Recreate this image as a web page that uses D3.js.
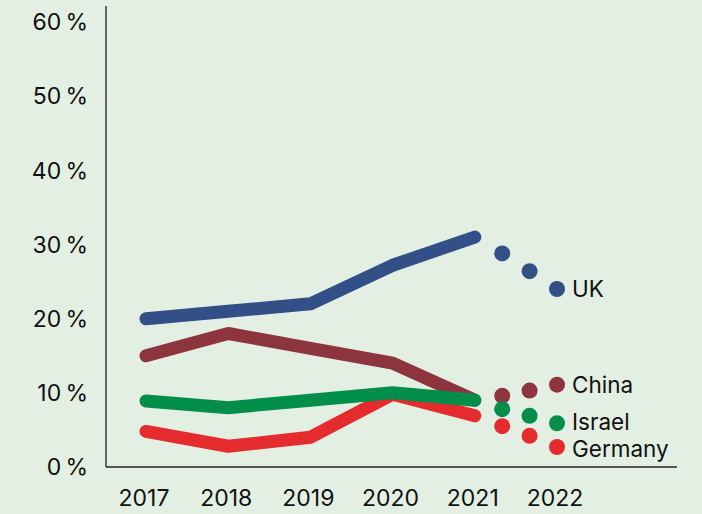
<!DOCTYPE html>
<html>
<head>
<meta charset="utf-8">
<script src="https://cdn.jsdelivr.net/npm/d3@7"></script>
<style>
  html, body { margin: 0; padding: 0; background: #e3efe3; }
  svg { display: block; }
</style>
</head>
<body>
<svg id="chart" width="702" height="514"></svg>
<script>
'use strict';

// data
var years = [2017, 2018, 2019, 2020, 2021];
var dotYears = [2021 + 1 / 3, 2021 + 2 / 3, 2022];
var tickYears = [2017, 2018, 2019, 2020, 2021, 2022];
var yTicks = [0, 10, 20, 30, 40, 50, 60];

var seriesNames = ['Germany', 'China', 'Israel', 'UK'];
var seriesColors = ['#e42b2e', '#8c353f', '#008e4a', '#334f87'];
var germany = [4.8, 2.8, 4, 9.8, 6.9];
var china = [15, 18, 16, 14, 9];
var israel = [8.9, 8, 9, 10, 9];
var uk = [20, 21, 22, 27.2, 31];
var germanyDots = [5.5, 4.2, 2.7];
var chinaDots = [9.6, 10.3, 11.1];
var israelDots = [7.8, 6.9, 5.9];
var ukDots = [28.8, 26.4, 24];

var lineValues = [germany, china, israel, uk];
var dotValues = [germanyDots, chinaDots, israelDots, ukDots];

var svg = d3.select('#chart');
var font = 'Inter, "Liberation Sans", sans-serif';

var x = d3.scaleLinear().domain([2017, 2022]).range([146, 557]);
var y = d3.scaleLinear().domain([0, 60]).range([467, 22]);

// axes lines
svg.append('line')
    .attr('x1', 106).attr('x2', 106)
    .attr('y1', 6).attr('y2', 467)
    .attr('stroke', '#222').attr('stroke-width', 1.3);
svg.append('line')
    .attr('x1', 106).attr('x2', 677)
    .attr('y1', 467).attr('y2', 467)
    .attr('stroke', '#222').attr('stroke-width', 1.3);

// y tick labels
svg.selectAll('text.ytick')
    .data(yTicks)
    .enter().append('text')
    .attr('class', 'ytick')
    .attr('x', 88)
    .attr('y', function(d) { return y(d); })
    .attr('dy', '0.36em')
    .attr('text-anchor', 'end')
    .attr('font-family', font)
    .attr('font-size', 23)
    .attr('fill', '#111')
    .text(function(d) { return d + '\u2009%'; });

// x tick labels
svg.selectAll('text.xtick')
    .data(tickYears)
    .enter().append('text')
    .attr('class', 'xtick')
    .attr('x', function(d) { return x(d) - 2; })
    .attr('y', 506)
    .attr('text-anchor', 'middle')
    .attr('font-family', font)
    .attr('font-size', 23)
    .attr('fill', '#111')
    .text(function(d) { return d; });

var line = d3.line()
    .x(function(d, i) { return x(years[i]); })
    .y(function(d) { return y(d); });

for (var s = 0; s < seriesNames.length; s++) {
    svg.append('path')
        .datum(lineValues[s])
        .attr('d', line)
        .attr('fill', 'none')
        .attr('stroke', seriesColors[s])
        .attr('stroke-width', 13)
        .attr('stroke-linecap', 'round')
        .attr('stroke-linejoin', 'round');

    svg.selectAll('circle.s' + s)
        .data(dotValues[s])
        .enter().append('circle')
        .attr('class', 's' + s)
        .attr('cx', function(d, i) { return x(dotYears[i]); })
        .attr('cy', function(d) { return y(d); })
        .attr('r', 8)
        .attr('fill', seriesColors[s]);

    // Israel and Germany labels sit very close, nudge them apart a little
    var nudge = seriesNames[s] === 'Israel' ? -1.5 : (seriesNames[s] === 'Germany' ? 1.5 : 0);
    var last = dotValues[s][dotValues[s].length - 1];
    svg.append('text')
        .attr('x', x(2022) + 15)
        .attr('y', y(last) + nudge)
        .attr('dy', '0.36em')
        .attr('font-family', font)
        .attr('font-size', 22.5)
        .attr('fill', '#111')
        .text(seriesNames[s]);
}
</script>
</body>
</html>
